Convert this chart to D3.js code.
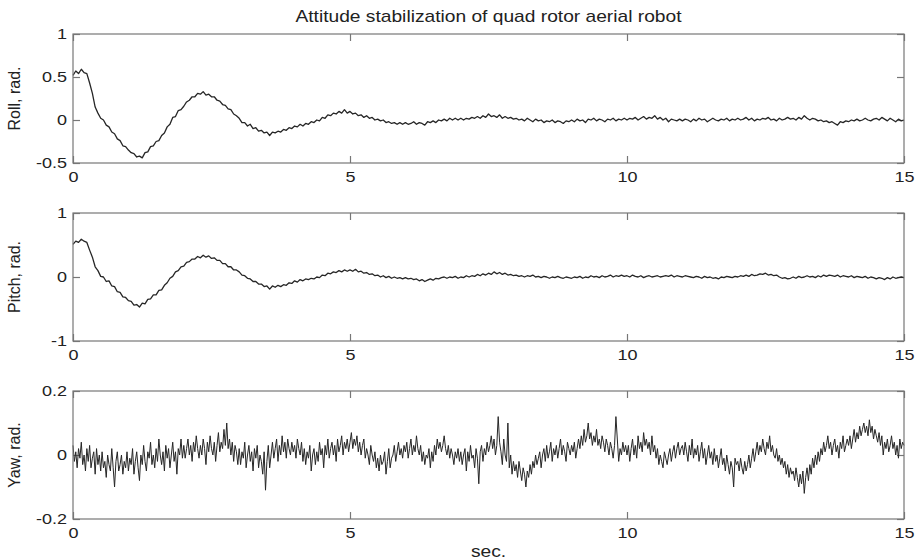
<!DOCTYPE html>
<html>
<head>
<meta charset="utf-8">
<script src="https://cdn.jsdelivr.net/npm/d3@7"></script>
<style>
body { margin: 0; background: #fff; }
text { font-family: "Liberation Sans", Arial, sans-serif; fill: #222; }
</style>
</head>
<body>
<script>
// samples every 0.05 s, 0..15 s
const roll = [
  0.52, 0.57, 0.54, 0.59, 0.55, 0.54, 0.43, 0.31, 0.15, 0.08, 0.02, 0.0, -0.06, -0.08, -0.14, -0.16, -0.22, -0.24, -0.3, -0.31,
  -0.35, -0.38, -0.39, -0.43, -0.42, -0.44, -0.38, -0.37, -0.31, -0.3, -0.25, -0.24, -0.18, -0.15, -0.08, -0.05, 0.03, 0.04, 0.11, 0.12,
  0.16, 0.21, 0.23, 0.27, 0.27, 0.31, 0.3, 0.33, 0.29, 0.3, 0.27, 0.27, 0.23, 0.22, 0.18, 0.17, 0.13, 0.12, 0.07, 0.05,
  0.02, -0.03, -0.03, -0.07, -0.05, -0.1, -0.09, -0.13, -0.12, -0.15, -0.14, -0.18, -0.14, -0.15, -0.13, -0.14, -0.11, -0.12, -0.09, -0.1,
  -0.07, -0.08, -0.05, -0.07, -0.04, -0.05, -0.02, -0.03, 0.0, -0.01, 0.03, 0.02, 0.06, 0.05, 0.08, 0.07, 0.1, 0.08, 0.12, 0.08,
  0.1, 0.07, 0.08, 0.05, 0.06, 0.03, 0.05, 0.02, 0.03, 0.0, 0.01, -0.01, 0.0, -0.03, -0.02, -0.04, -0.03, -0.05, -0.03, -0.05,
  -0.03, -0.05, -0.04, -0.02, -0.05, -0.03, -0.04, -0.06, -0.02, -0.03, -0.01, -0.03, 0.0, -0.01, 0.01, -0.01, 0.02, 0.0, 0.02, 0.0,
  0.02, 0.0, 0.02, 0.01, 0.03, 0.02, 0.04, 0.02, 0.05, 0.03, 0.07, 0.04, 0.05, 0.03, 0.06, 0.02, 0.04, 0.02, 0.03, 0.01,
  0.02, 0.0, 0.01, -0.01, 0.02, 0.0, -0.02, 0.01, -0.01, 0.0, -0.03, -0.01, -0.02, 0.0, -0.03, -0.01, -0.02, -0.04, -0.01, -0.02,
  0.0, -0.02, 0.01, -0.01, 0.0, -0.03, 0.01, 0.0, 0.02, -0.01, 0.01, 0.0, -0.02, 0.01, 0.0, 0.02, -0.01, 0.01, 0.0, 0.02,
  0.0, 0.02, 0.01, 0.03, 0.0, 0.02, 0.04, 0.01, 0.03, 0.02, 0.05, 0.01, 0.03, 0.0, 0.02, -0.02, 0.01, 0.0, -0.01, 0.01,
  -0.01, 0.01, 0.0, -0.02, 0.01, -0.01, 0.02, 0.0, 0.01, -0.02, 0.0, 0.02, 0.0, -0.01, 0.01, 0.0, 0.02, -0.01, 0.01, 0.0,
  0.02, 0.0, 0.01, 0.03, 0.0, 0.02, -0.01, 0.01, 0.0, 0.02, 0.01, 0.03, 0.0, 0.01, -0.01, 0.02, 0.0, 0.01, 0.03, 0.01,
  0.02, 0.0, 0.03, 0.01, 0.05, 0.02, 0.0, 0.02, 0.01, -0.01, 0.0, -0.02, -0.01, -0.03, -0.02, -0.04, -0.06, -0.02, -0.03, -0.01,
  -0.02, 0.0, -0.01, 0.01, -0.01, 0.0, 0.02, 0.0, -0.01, 0.01, 0.02, 0.0, 0.03, 0.01, -0.01, 0.02, 0.0, -0.02, 0.01, -0.01, 0.0
];

const pitch = [
  0.51, 0.56, 0.54, 0.59, 0.56, 0.54, 0.42, 0.31, 0.16, 0.1, 0.01, 0.0, -0.07, -0.06, -0.14, -0.15, -0.23, -0.24, -0.31, -0.32,
  -0.37, -0.38, -0.44, -0.43, -0.47, -0.41, -0.42, -0.35, -0.34, -0.28, -0.28, -0.21, -0.2, -0.13, -0.09, -0.02, 0.01, 0.08, 0.1, 0.16,
  0.17, 0.23, 0.24, 0.28, 0.28, 0.32, 0.3, 0.34, 0.31, 0.33, 0.29, 0.3, 0.26, 0.26, 0.21, 0.21, 0.16, 0.16, 0.11, 0.11,
  0.08, 0.03, 0.02, -0.02, -0.03, -0.07, -0.07, -0.11, -0.11, -0.15, -0.14, -0.19, -0.14, -0.16, -0.13, -0.15, -0.12, -0.13, -0.09, -0.1,
  -0.06, -0.08, -0.04, -0.06, -0.03, -0.04, -0.02, -0.03, 0.0, -0.01, 0.03, 0.02, 0.06, 0.05, 0.08, 0.07, 0.1, 0.08, 0.11, 0.09,
  0.11, 0.09, 0.12, 0.08, 0.09, 0.06, 0.07, 0.04, 0.05, 0.02, 0.03, 0.0, 0.02, -0.01, 0.01, -0.02, 0.0, -0.02, -0.01, -0.03,
  -0.01, -0.03, -0.02, -0.04, -0.03, -0.06, -0.04, -0.07, -0.05, -0.03, -0.05, -0.02, -0.03, -0.01, 0.0, -0.02, 0.0, -0.01, 0.01, -0.02,
  0.0, -0.01, 0.02, 0.0, 0.02, 0.01, 0.04, 0.02, 0.05, 0.03, 0.06, 0.04, 0.08, 0.05, 0.07, 0.04, 0.06, 0.03, 0.04, 0.02,
  0.03, 0.01, 0.02, 0.0, 0.02, 0.01, 0.03, 0.0, 0.01, -0.01, 0.01, 0.0, -0.02, 0.0, -0.01, 0.01, -0.01, -0.02, 0.0, -0.01,
  -0.02, 0.0, -0.01, 0.01, -0.02, 0.0, -0.01, 0.02, 0.0, 0.01, -0.01, 0.02, 0.0, 0.01, 0.03, 0.0, 0.02, 0.01, 0.03, 0.01,
  0.02, 0.0, 0.03, 0.01, 0.0, 0.02, -0.01, 0.01, 0.02, 0.0, 0.01, 0.02, 0.0, 0.01, 0.02, 0.01, 0.03, 0.0, 0.02, 0.01,
  0.0, 0.02, 0.01, 0.0, -0.01, 0.01, 0.0, -0.02, 0.01, -0.01, 0.0, -0.02, -0.01, -0.03, 0.0, -0.01, 0.01, 0.0, -0.01, 0.01,
  0.0, 0.02, 0.01, 0.03, 0.01, 0.04, 0.02, 0.03, 0.05, 0.04, 0.06, 0.03, 0.04, 0.02, 0.03, 0.0, -0.02, -0.01, -0.03, -0.02,
  0.0, -0.02, 0.01, -0.01, 0.0, 0.02, 0.0, 0.01, -0.01, 0.02, 0.0, 0.03, 0.01, 0.03, 0.02, 0.01, 0.03, 0.0, 0.02, 0.01,
  0.0, 0.02, -0.01, 0.01, 0.0, -0.01, 0.01, -0.02, 0.0, -0.01, -0.03, -0.01, -0.02, -0.04, -0.01, -0.03, 0.0, -0.02, -0.01, 0.0, -0.01
];

// samples every 0.025 s, 0..15 s
const yaw = [
  0.03, -0.02, 0.01, -0.04, 0.02, -0.01, 0.04, -0.03, 0.0, -0.05, 0.02, -0.02, 0.03, -0.04, -0.01, 0.01, -0.06, 0.02, -0.03, 0.0,
  -0.05, 0.01, -0.04, -0.02, -0.07, 0.0, -0.03, -0.05, 0.02, -0.04, -0.1, -0.02, 0.01, -0.05, -0.03, 0.0, -0.06, -0.02, -0.04, 0.01,
  -0.05, -0.01, -0.03, 0.02, -0.06, -0.02, 0.01, -0.04, -0.08, 0.0, -0.03, 0.03, -0.02, -0.05, 0.01, -0.01, 0.04, -0.03, 0.0, -0.04,
  0.02, -0.02, 0.05, 0.0, -0.03, 0.01, -0.05, 0.03, -0.01, 0.02, -0.04, 0.0, 0.04, -0.02, 0.01, -0.06, 0.02, 0.0, 0.05, -0.01,
  0.03, -0.01, 0.02, 0.05, 0.0, 0.03, -0.02, 0.04, 0.01, 0.06, 0.02, -0.01, 0.03, 0.0, 0.05, 0.02, -0.03, 0.04, 0.01, 0.06,
  0.02, 0.0, 0.04, -0.02, 0.03, 0.07, 0.01, 0.04, 0.02, 0.08, 0.03, 0.1, 0.02, 0.05, 0.0, 0.04, -0.02, 0.03, 0.01, -0.03,
  0.02, -0.03, 0.01, -0.01, 0.04, -0.04, 0.0, 0.03, -0.02, 0.01, -0.05, 0.02, -0.01, 0.03, -0.04, 0.0, -0.02, -0.06, 0.01, -0.11,
  -0.02, 0.03, -0.04, 0.0, 0.04, -0.01, 0.02, 0.05, -0.02, 0.03, 0.0, 0.06, 0.01, 0.04, -0.01, 0.05, 0.02, 0.0, 0.04, 0.01,
  0.03, -0.01, 0.05, 0.02, 0.0, 0.04, -0.02, 0.02, -0.03, 0.01, -0.01, 0.03, -0.05, 0.0, 0.02, -0.03, 0.01, -0.02, 0.04, 0.0,
  0.02, -0.04, 0.03, 0.0, 0.05, -0.01, 0.02, 0.04, 0.0, 0.03, -0.02, 0.05, 0.01, 0.03, 0.06, 0.0, 0.04, 0.02, 0.05, 0.01,
  0.04, 0.07, 0.02, 0.05, 0.03, 0.06, 0.01, 0.04, 0.0, 0.03, 0.05, -0.01, 0.02, 0.0, -0.03, 0.03, 0.0, -0.02, 0.01, -0.04,
  -0.01, -0.05, 0.0, -0.03, -0.02, 0.01, -0.06, -0.02, 0.02, -0.04, -0.01, 0.0, 0.03, -0.02, 0.01, 0.04, 0.0, 0.02, -0.01, 0.03,
  0.01, 0.04, -0.01, 0.02, 0.05, 0.0, 0.03, 0.01, 0.06, 0.02, 0.0, 0.03, -0.02, 0.01, -0.03, 0.0, -0.01, 0.02, -0.04, 0.01,
  -0.02, 0.03, 0.0, 0.05, 0.02, 0.04, 0.01, 0.03, 0.06, 0.02, 0.0, 0.03, -0.01, 0.02, 0.0, -0.03, 0.01, -0.01, 0.02, -0.02,
  0.01, -0.03, 0.0, 0.02, -0.05, 0.01, -0.02, 0.03, -0.01, 0.0, -0.04, 0.02, -0.01, -0.09, 0.01, 0.03, -0.02, 0.02, 0.0, 0.04,
  0.01, 0.03, 0.06, 0.02, 0.05, 0.0, 0.03, 0.12, 0.04, 0.01, -0.03, 0.05, 0.0, -0.02, 0.1, -0.04, 0.0, -0.06, -0.02, -0.05,
  -0.03, -0.07, -0.02, -0.05, -0.08, -0.04, -0.06, -0.1, -0.05, -0.07, -0.03, -0.06, -0.02, -0.04, 0.0, -0.03, -0.01, 0.01, -0.04, 0.0,
  0.02, -0.02, 0.03, -0.01, 0.01, 0.04, -0.02, 0.02, 0.0, 0.03, -0.01, 0.02, 0.05, 0.0, 0.03, 0.01, -0.02, 0.04, 0.02, 0.0,
  0.03, 0.01, 0.04, -0.01, 0.02, 0.05, 0.02, 0.06, 0.03, 0.08, 0.04, 0.06, 0.1, 0.05, 0.07, 0.03, 0.06, 0.04, 0.08, 0.03,
  0.05, 0.02, 0.06, 0.04, 0.01, 0.05, 0.03, 0.0, 0.04, 0.02, -0.01, 0.03, 0.12, 0.05, -0.02, 0.02, 0.0, 0.04, 0.01, 0.03,
  0.0, 0.03, -0.02, 0.02, 0.05, 0.0, 0.03, -0.01, 0.06, 0.02, 0.04, 0.01, 0.07, 0.03, 0.05, 0.02, 0.04, 0.0, 0.06, 0.01,
  0.03, -0.01, 0.02, -0.03, 0.0, -0.02, -0.04, 0.01, -0.01, -0.03, 0.0, 0.02, -0.02, 0.01, 0.03, -0.01, 0.02, 0.04, 0.0, 0.02,
  0.03, 0.0, 0.04, 0.01, -0.02, 0.03, 0.0, 0.05, -0.01, 0.02, 0.0, 0.03, -0.02, 0.01, 0.04, -0.01, 0.02, -0.03, 0.0, 0.03,
  -0.01, 0.01, -0.03, 0.02, -0.02, 0.0, -0.04, -0.01, 0.02, -0.03, -0.01, -0.05, 0.0, -0.03, -0.06, -0.02, -0.04, -0.1, -0.01, -0.03,
  -0.02, -0.05, -0.01, -0.04, -0.06, -0.02, -0.05, -0.03, 0.0, -0.04, -0.01, 0.02, -0.02, 0.01, 0.04, 0.0, 0.03, 0.01, 0.05, 0.02,
  0.0, 0.04, 0.02, 0.06, 0.01, 0.03, 0.0, -0.01, 0.02, -0.02, 0.0, -0.03, -0.01, -0.04, -0.02, -0.06, -0.03, -0.07, -0.04, -0.06,
  -0.05, -0.08, -0.04, -0.07, -0.1, -0.06, -0.09, -0.05, -0.12, -0.07, -0.04, -0.08, -0.03, -0.06, -0.01, -0.04, 0.0, -0.03, 0.01, -0.02,
  0.02, 0.0, 0.04, 0.01, 0.03, 0.06, 0.02, 0.04, 0.0, 0.03, 0.05, 0.01, 0.03, -0.01, 0.04, 0.02, 0.06, 0.01, 0.03, 0.05,
  0.03, 0.06, 0.02, 0.05, 0.08, 0.04, 0.07, 0.05, 0.09, 0.06, 0.08, 0.1, 0.07, 0.09, 0.06, 0.11, 0.07, 0.09, 0.05, 0.08,
  0.06, 0.04, 0.07, 0.03, 0.06, 0.0, 0.04, 0.02, 0.05, 0.01, 0.03, 0.06, 0.02, 0.04, 0.0, 0.03, -0.01, 0.05, 0.02, 0.04, 0.03
];

const timeEnd = 15;
const xTicks = [0, 5, 10, 15];
const rollTicks = [-0.5, 0, 0.5, 1];
const pitchTicks = [-1, 0, 1];
const yawTicks = [-0.2, 0, 0.2];

const title = "Attitude stabilization of quad rotor aerial robot";
const xLabel = "sec.";

const panels = [
  {values: roll, label: "Roll, rad.", domain: [-0.5, 1], ticks: rollTicks, top: 34, bottom: 163, lw: 1.3},
  {values: pitch, label: "Pitch, rad.", domain: [-1, 1], ticks: pitchTicks, top: 213, bottom: 341, lw: 1.3},
  {values: yaw, label: "Yaw, rad.", domain: [-0.2, 0.2], ticks: yawTicks, top: 391, bottom: 519, lw: 1}
];

const width = 922, height = 560;
const left = 73, right = 904;
const stretch = 1.2;

const svg = d3.select("body").append("svg")
  .attr("width", width)
  .attr("height", height);

const x = d3.scaleLinear().domain([0, timeEnd]).range([left, right]);

svg.append("text")
  .attr("transform", `translate(${(left + right) / 2}, 22) scale(${stretch}, 1)`)
  .attr("text-anchor", "middle")
  .style("font-size", "16px")
  .text(title);

panels.forEach(p => {
  const y = d3.scaleLinear().domain(p.domain).range([p.bottom, p.top]);
  const g = svg.append("g");
  const n = p.values.length;

  // inward ticks on all four sides
  g.append("g").attr("transform", `translate(0, ${p.bottom})`)
    .call(d3.axisBottom(x).tickValues(xTicks).tickSize(-7).tickPadding(8).tickFormat(d => String(d)));
  g.append("g").attr("transform", `translate(0, ${p.top})`)
    .call(d3.axisTop(x).tickValues(xTicks).tickSize(-7).tickFormat(""));
  g.append("g").attr("transform", `translate(${left}, 0)`)
    .call(d3.axisLeft(y).tickValues(p.ticks).tickSize(-7).tickPadding(5).tickFormat(d => String(d)));
  g.append("g").attr("transform", `translate(${right}, 0)`)
    .call(d3.axisRight(y).tickValues(p.ticks).tickSize(-7).tickFormat(""));

  g.selectAll(".domain").remove();
  g.selectAll(".tick line").attr("stroke", "#777").attr("stroke-width", 1.2);
  g.selectAll(".tick text")
    .attr("fill", "#222")
    .style("font-size", "15px")
    .style("font-family", "'Liberation Sans', Arial, sans-serif")
    .attr("transform", `scale(${stretch}, 1)`);

  g.append("path")
    .datum(p.values)
    .attr("fill", "none")
    .attr("stroke", "#262626")
    .attr("stroke-width", p.lw)
    .attr("stroke-linejoin", "round")
    .attr("d", d3.line()
      .x((d, i) => x(i * timeEnd / (n - 1)))
      .y(d => y(d)));

  g.append("rect")
    .attr("x", left).attr("y", p.top)
    .attr("width", right - left).attr("height", p.bottom - p.top)
    .attr("fill", "none")
    .attr("stroke", "#777")
    .attr("stroke-width", 1.2);

  svg.append("text")
    .attr("transform", `translate(20, ${(p.top + p.bottom) / 2}) rotate(-90)`)
    .attr("text-anchor", "middle")
    .style("font-size", "16px")
    .text(p.label);
});

svg.append("text")
  .attr("transform", `translate(${(left + right) / 2}, 557) scale(${stretch}, 1)`)
  .attr("text-anchor", "middle")
  .style("font-size", "16px")
  .text(xLabel);
</script>
</body>
</html>
